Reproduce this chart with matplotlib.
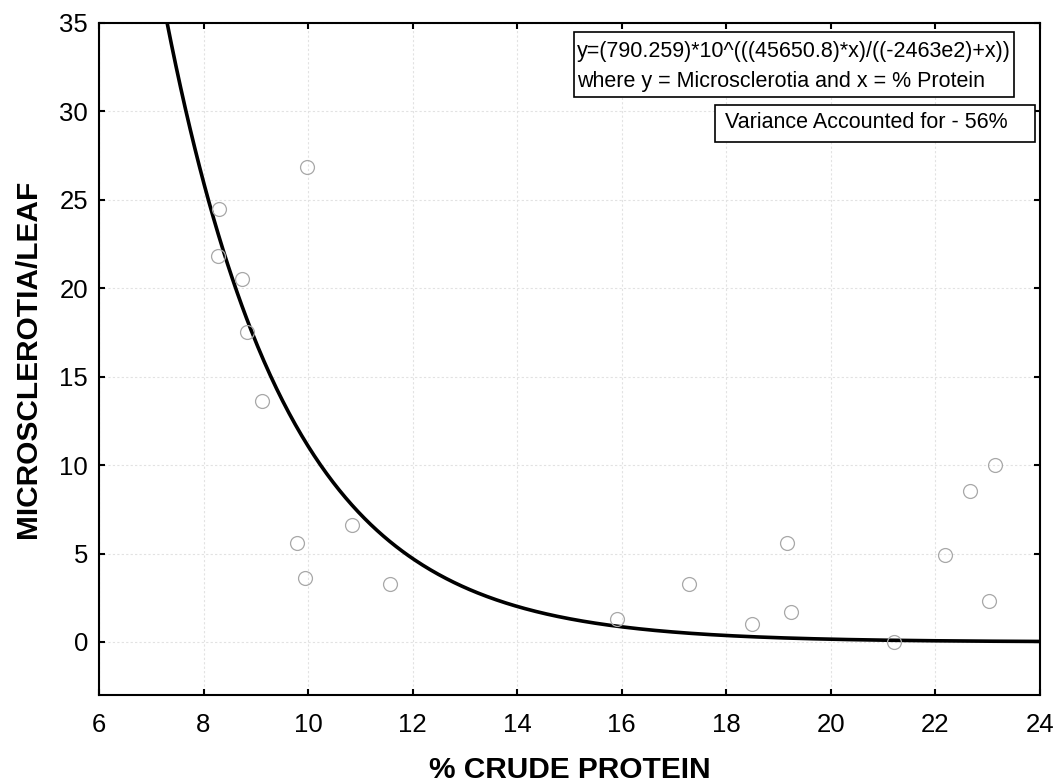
import numpy as np
import matplotlib
matplotlib.use("Agg")
import matplotlib.pyplot as plt
from matplotlib.patches import Rectangle

plt.rcParams['font.family'] = ['Liberation Sans', 'DejaVu Sans']

# Observed leaf samples: crude protein (%) and microsclerotia count per leaf
protein = [8.29, 8.28, 8.73, 8.83, 9.11, 9.98, 9.79, 9.95, 10.83, 11.57,
           15.90, 17.29, 18.50, 19.17, 19.23, 21.20, 22.19, 22.67, 23.02, 23.14]
microsclerotia = [24.5, 21.8, 20.5, 17.5, 13.6, 26.84, 5.6, 3.63, 6.61, 3.26,
                  1.29, 3.26, 1.03, 5.58, 1.67, 0.0, 4.94, 8.56, 2.32, 9.98]

# Fitted model coefficients
a, b, c = 790.259, 45650.8, -2463e2

x_ticks = [6, 8, 10, 12, 14, 16, 18, 20, 22, 24]
y_ticks = [0, 5, 10, 15, 20, 25, 30, 35]

W, H = 1058, 783
fig = plt.figure(figsize=(W / 100, H / 100), dpi=100)
ax = fig.add_axes([99 / W, 1 - 695 / H, (1040 - 99) / W, (695 - 23) / H])


def fig_xy(px, py):
    """Figure-fraction coordinates from pixel position (origin top-left)."""
    return px / W, 1 - py / H


ax.set_xlim(6, 24)
ax.set_ylim(-3, 35)
ax.set_xticks(x_ticks)
ax.set_yticks(y_ticks)
ax.grid(True, color='#e2e2e2', linestyle=(0, (2, 2)), linewidth=0.8)
ax.set_axisbelow(True)

xs = np.linspace(6, 24, 600)
ys = a * 10 ** ((b * xs) / (c + xs))
ax.plot(xs, ys, color='black', linewidth=2.6, zorder=3)

ax.plot(protein, microsclerotia, linestyle='none', marker='o', markersize=10,
        markerfacecolor='none', markeredgecolor='#a8a8a8', markeredgewidth=0.9, zorder=4)

for s in ax.spines.values():
    s.set_linewidth(1.5)
ax.tick_params(direction='in', length=4, width=1.5, labelsize=18.5,
               top=True, right=True)
ax.tick_params(axis='x', pad=13)
ax.tick_params(axis='y', pad=8)

ax.set_xlabel('% CRUDE PROTEIN', fontsize=21.5, fontweight='bold', labelpad=14)
ax.set_ylabel('MICROSCLEROTIA/LEAF', fontsize=21.5, fontweight='bold', labelpad=12)

# Equation box
x0, y0 = fig_xy(574, 97)
x1, y1 = fig_xy(1014, 32)
fig.patches.append(Rectangle((x0, y0), x1 - x0, y1 - y0, transform=fig.transFigure,
                             facecolor='white', edgecolor='black', linewidth=1.2, zorder=5))
tx, ty = fig_xy(577, 52)
fig.text(tx, ty, 'y=(790.259)*10^(((45650.8)*x)/((-2463e2)+x))',
         fontsize=15.5, ha='left', va='center', zorder=6)
tx, ty = fig_xy(577, 81)
fig.text(tx, ty, 'where y = Microsclerotia and x = % Protein',
         fontsize=15.5, ha='left', va='center', zorder=6)

# Variance box
x0, y0 = fig_xy(715, 142)
x1, y1 = fig_xy(1035, 105)
fig.patches.append(Rectangle((x0, y0), x1 - x0, y1 - y0, transform=fig.transFigure,
                             facecolor='white', edgecolor='black', linewidth=1.2, zorder=5))
tx, ty = fig_xy(725, 123)
fig.text(tx, ty, 'Variance Accounted for - 56%', fontsize=15.5,
         ha='left', va='center', zorder=6)

fig.savefig('out.png', dpi=100)
